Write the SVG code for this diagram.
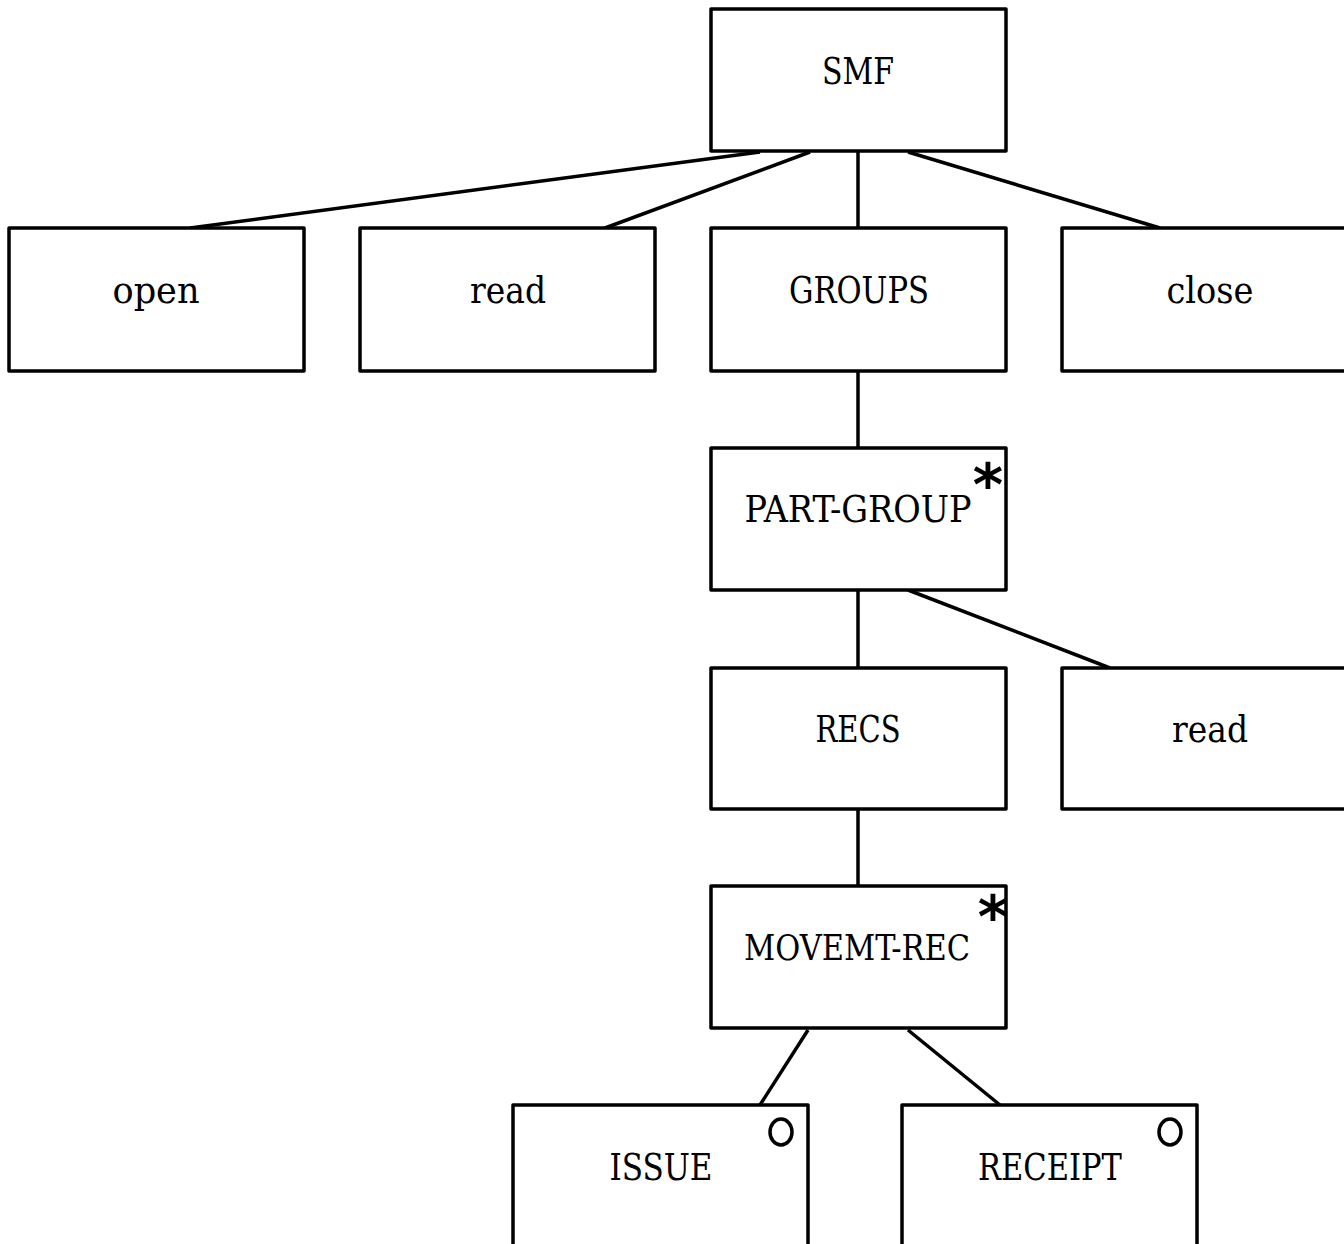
<svg xmlns="http://www.w3.org/2000/svg" width="1344" height="1244" viewBox="0 0 1344 1244">
<style>
.box{fill:#fff;stroke:#000;stroke-width:3.5;stroke-linejoin:round}
.lbl{font-family:"DejaVu Serif","Liberation Serif",serif;font-stretch:condensed;font-size:38px;fill:#000;text-anchor:middle}
.ast{font-family:"DejaVu Sans","Liberation Sans",sans-serif;font-size:58px;font-weight:bold;fill:#000;text-anchor:middle}
.sel{fill:none;stroke:#000;stroke-width:3.5}
#connectors line{stroke:#000;stroke-width:3.5}
</style>
<rect width="1344" height="1244" fill="#fff"/>
<g id="connectors">
<line x1="760" y1="152" x2="190" y2="228"/>
<line x1="810" y1="152" x2="605" y2="228"/>
<line x1="858" y1="152" x2="858" y2="228"/>
<line x1="908" y1="152" x2="1160" y2="228"/>
<line x1="858" y1="371" x2="858" y2="448"/>
<line x1="858" y1="590" x2="858" y2="668"/>
<line x1="908" y1="590" x2="1110" y2="668"/>
<line x1="858" y1="809" x2="858" y2="886"/>
<line x1="808" y1="1030" x2="760" y2="1105"/>
<line x1="908" y1="1030" x2="1000" y2="1105"/>
</g>
<g id="smf"><rect class="box" x="711" y="9" width="295" height="142"/><text class="lbl" x="858" y="84" textLength="72" lengthAdjust="spacingAndGlyphs">SMF</text></g>
<g id="open"><rect class="box" x="9" y="228" width="295" height="143"/><text class="lbl" x="156" y="303" textLength="87" lengthAdjust="spacingAndGlyphs">open</text></g>
<g id="read1"><rect class="box" x="360" y="228" width="295" height="143"/><text class="lbl" x="508" y="303" textLength="76" lengthAdjust="spacingAndGlyphs">read</text></g>
<g id="groups"><rect class="box" x="711" y="228" width="295" height="143"/><text class="lbl" x="859" y="303" textLength="140" lengthAdjust="spacingAndGlyphs">GROUPS</text></g>
<g id="close"><rect class="box" x="1062" y="228" width="295" height="143"/><text class="lbl" x="1210" y="303" textLength="87" lengthAdjust="spacingAndGlyphs">close</text></g>
<g id="part-group"><rect class="box" x="711" y="448" width="295" height="142"/><text class="lbl" x="858" y="522" textLength="227" lengthAdjust="spacingAndGlyphs">PART-GROUP</text><text class="ast" x="988" y="505">*</text></g>
<g id="recs"><rect class="box" x="711" y="668" width="295" height="141"/><text class="lbl" x="858" y="742" textLength="85" lengthAdjust="spacingAndGlyphs">RECS</text></g>
<g id="read2"><rect class="box" x="1062" y="668" width="295" height="141"/><text class="lbl" x="1210" y="742" textLength="76" lengthAdjust="spacingAndGlyphs">read</text></g>
<g id="movemt-rec"><rect class="box" x="711" y="886" width="295" height="142"/><text class="lbl" x="857" y="960" textLength="226" lengthAdjust="spacingAndGlyphs" style="font-size:36px">MOVEMT-REC</text><text class="ast" x="993" y="937">*</text></g>
<g id="issue"><rect class="box" x="513" y="1105" width="295" height="160"/><text class="lbl" x="661" y="1180" textLength="103" lengthAdjust="spacingAndGlyphs">ISSUE</text><ellipse class="sel" cx="781" cy="1132" rx="11" ry="13"/></g>
<g id="receipt"><rect class="box" x="902" y="1105" width="295" height="160"/><text class="lbl" x="1050" y="1180" textLength="144" lengthAdjust="spacingAndGlyphs">RECEIPT</text><ellipse class="sel" cx="1170" cy="1132" rx="11" ry="13"/></g>
</svg>
